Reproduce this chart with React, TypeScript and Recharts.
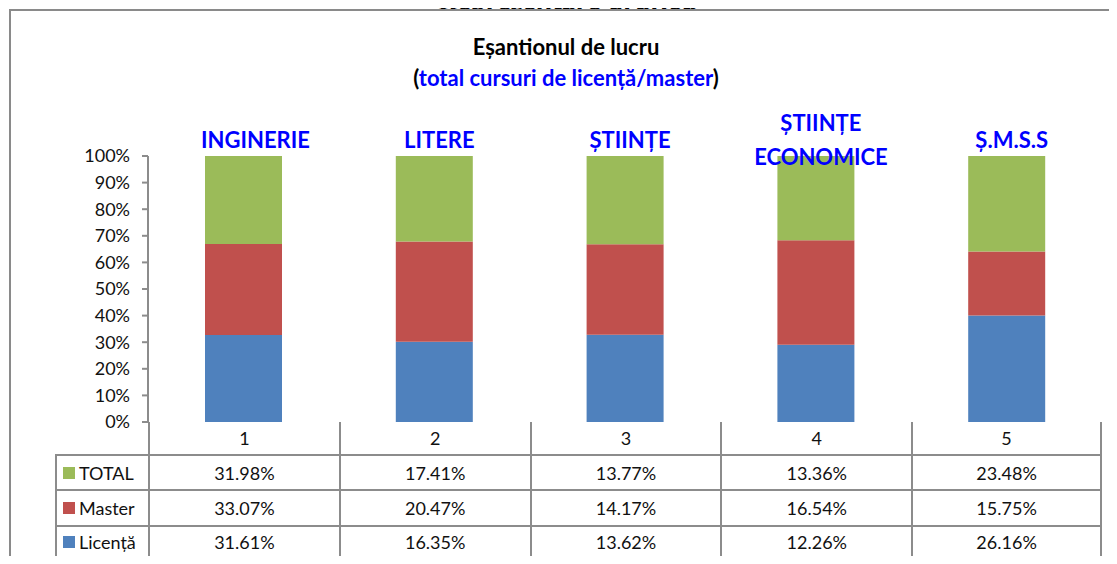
import { Bar, BarChart, LabelList, XAxis, YAxis } from 'recharts'

const categories = ['1', '2', '3', '4', '5']
const domains = ['INGINERIE', 'LITERE', 'ȘTIINȚE', 'ȘTIINȚE\nECONOMICE', 'Ș.M.S.S']
const totalValues = [31.98, 17.41, 13.77, 13.36, 23.48]
const masterValues = [33.07, 20.47, 14.17, 16.54, 15.75]
const licentaValues = [31.61, 16.35, 13.62, 12.26, 26.16]
const yTicks = [0, 0.1, 0.2, 0.3, 0.4, 0.5, 0.6, 0.7, 0.8, 0.9, 1]

const series = [
  { key: 'total', name: 'TOTAL', color: '#9BBB59', values: totalValues },
  { key: 'master', name: 'Master', color: '#C0504D', values: masterValues },
  { key: 'licenta', name: 'Licență', color: '#4F81BD', values: licentaValues },
]

const data = categories.map((cat, i) => ({
  cat,
  domain: domains[i],
  licenta: licentaValues[i],
  master: masterValues[i],
  total: totalValues[i],
}))

const FONT = 'Lato, "Open Sans", sans-serif'
const GRID = '#8c8c8c'

const DomainLabel = (props: any) => {
  const { x, y, width, index } = props
  const lines = domains[index].split('\n')
  const cx = x + width / 2 + (index === 0 ? 12 : 5)
  const first = y - 17 - (lines.length - 1) * 17
  return (
    <text
      x={cx}
      y={first}
      textAnchor="middle"
      dominantBaseline="central"
      fill="#0000FF"
      fontWeight="bold"
      fontSize={22}
      fontFamily={FONT}
    >
      {lines.map((l: string, k: number) => (
        <tspan key={k} x={cx} dy={k === 0 ? 0 : 34}>
          {l}
        </tspan>
      ))}
    </text>
  )
}

const left = 148
const right = 1102
const colW = (right - left) / categories.length
const rowTops = [422, 454, 489, 525, 559]

export default function App() {
  return (
    <div
      style={{
        position: 'relative',
        width: 1117,
        height: 564,
        margin: -8,
        overflow: 'hidden',
        background: '#fff',
        fontFamily: FONT,
        color: '#111',
      }}
    >
      <div
        style={{
          position: 'absolute',
          left: 0,
          width: 1136,
          top: -15,
          textAlign: 'center',
          fontFamily: '"Liberation Serif", "DejaVu Serif", serif',
          fontStyle: 'italic',
          fontWeight: 'bold',
          fontSize: 30,
          lineHeight: '30px',
          color: '#000',
        }}
      >
        Reprezentare grafică
      </div>
      <div
        style={{
          position: 'absolute',
          left: 9,
          top: 9,
          width: 1200,
          height: 700,
          border: '2px solid #8a8a8a',
          background: '#fff',
        }}
      />
      <div
        style={{
          position: 'absolute',
          left: 0,
          width: 1132,
          top: 31,
          textAlign: 'center',
          fontWeight: 'bold',
          fontSize: 22,
          lineHeight: '31px',
          color: '#000',
        }}
      >
        <div>Eșantionul de lucru</div>
        <div>
          (<span style={{ color: '#0000FF' }}>total cursuri de licență/master</span>)
        </div>
      </div>
      <div style={{ position: 'absolute', left: 0, top: 0 }}>
        <BarChart
          width={1117}
          height={564}
          data={data}
          stackOffset="expand"
          barSize={77}
          margin={{ top: 156, right: 1117 - right, bottom: 142, left: left - 70 }}
        >
          <XAxis dataKey="cat" tick={false} tickLine={false} axisLine={{ stroke: GRID, strokeWidth: 2 }} height={0} />
          <YAxis
            width={70}
            domain={[0, 1]}
            ticks={yTicks}
            interval={0}
            tickFormatter={(v: number) => `${Math.round(v * 100)}%`}
            tick={{ fill: '#111', fontSize: 18, fontFamily: FONT }}
            tickLine={{ stroke: GRID, strokeWidth: 2 }}
            tickSize={6}
            tickMargin={12}
            axisLine={{ stroke: GRID, strokeWidth: 2 }}
          />
          <Bar dataKey="licenta" stackId="a" fill="#4F81BD" isAnimationActive={false} />
          <Bar dataKey="master" stackId="a" fill="#C0504D" isAnimationActive={false} />
          <Bar dataKey="total" stackId="a" fill="#9BBB59" isAnimationActive={false}>
            <LabelList dataKey="domain" content={DomainLabel} />
          </Bar>
        </BarChart>
      </div>
      {/* data table under the plot */}
      {categories.map((c, i) => (
        <div
          key={'h' + c}
          style={{
            position: 'absolute',
            left: left + i * colW,
            top: rowTops[0],
            width: colW,
            height: rowTops[1] - rowTops[0],
            boxSizing: 'border-box',
            borderLeft: `2px solid ${GRID}`,
            borderRight: i === categories.length - 1 ? `2px solid ${GRID}` : 'none',
            display: 'flex',
            alignItems: 'center',
            justifyContent: 'center',
            fontSize: 18,
          }}
        >
          {c}
        </div>
      ))}
      {series.map((s, r) => (
        <div key={s.key}>
          <div
            style={{
              position: 'absolute',
              left: 55,
              top: rowTops[r + 1],
              width: left - 55,
              height: rowTops[r + 2] - rowTops[r + 1],
              boxSizing: 'border-box',
              borderLeft: `2px solid ${GRID}`,
              borderTop: `2px solid ${GRID}`,
              borderBottom: r === series.length - 1 ? `2px solid ${GRID}` : 'none',
              display: 'flex',
              alignItems: 'center',
              paddingLeft: 6,
              fontSize: 18,
            }}
          >
            <span style={{ width: 12, height: 12, background: s.color, marginRight: 4, display: 'inline-block' }} />
            {s.name}
          </div>
          {s.values.map((v, i) => (
            <div
              key={i}
              style={{
                position: 'absolute',
                left: left + i * colW,
                top: rowTops[r + 1],
                width: colW,
                height: rowTops[r + 2] - rowTops[r + 1],
                boxSizing: 'border-box',
                borderLeft: `2px solid ${GRID}`,
                borderTop: `2px solid ${GRID}`,
                borderRight: i === categories.length - 1 ? `2px solid ${GRID}` : 'none',
                borderBottom: r === series.length - 1 ? `2px solid ${GRID}` : 'none',
                display: 'flex',
                alignItems: 'center',
                justifyContent: 'center',
                fontSize: 18,
              }}
            >
              {v.toFixed(2)}%
            </div>
          ))}
        </div>
      ))}
    </div>
  )
}
